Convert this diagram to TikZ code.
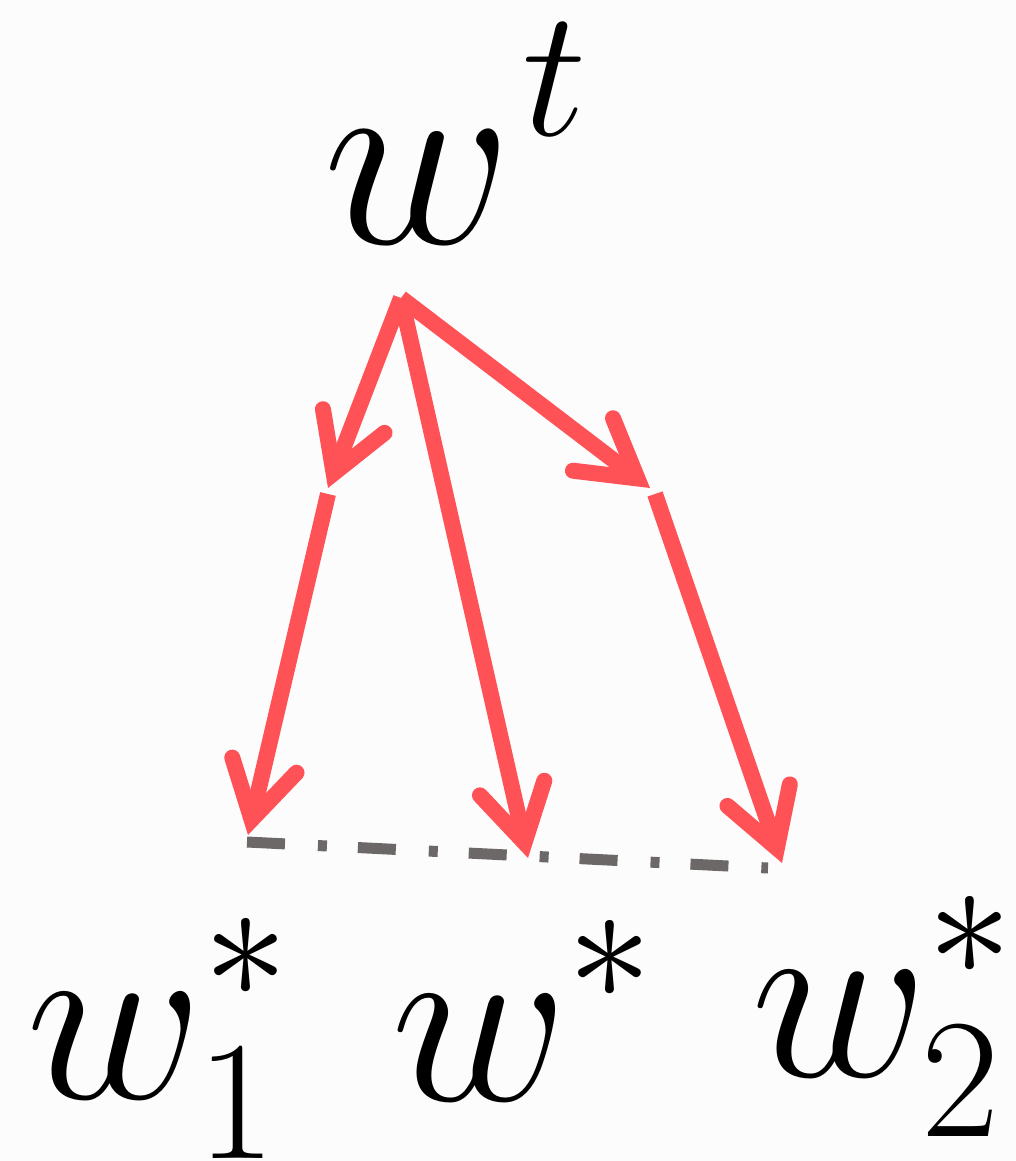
\documentclass[tikz,border=0pt]{standalone}
\usepackage{fix-cm}
\usetikzlibrary{arrows.meta}
\definecolor{arrred}{RGB}{255,82,87}
\definecolor{dashgray}{RGB}{108,104,104}
\definecolor{bgcol}{RGB}{252,252,252}
\tikzset{
  lbl/.style={anchor=base west, inner sep=0pt, outer sep=0pt},
  bigtop/.style={font=\fontsize{260}{260}\selectfont},
  bigbot/.style={font=\fontsize{243}{243}\selectfont},
  redarrow/.style={draw=arrred, line width=16pt, line cap=butt,
    -{Straight Barb[length=56pt, width=66pt, line cap=round, line join=miter]}},
  dashdot/.style={draw=dashgray, line width=11pt,
    dash pattern=on 38pt off 33pt on 9pt off 31pt}
}
\begin{document}
\begin{tikzpicture}[x=1pt, y=-1pt]
  \fill[bgcol] (0,0) rectangle (1016,1161);
  \useasboundingbox (0,0) rectangle (1016,1161);

  % labels
  \node[lbl, bigtop] (wt) at (323,243) {$\displaystyle w^{\mkern1mu t}$};
  \node[lbl, bigbot] (w1) at (27,1098) {$\displaystyle w_1^*$};
  \node[lbl, bigbot] (wm) at (391,1100) {$\displaystyle w^*$};
  \node[lbl, bigbot] (w2) at (751,1076) {$\displaystyle w_2^*$};

  % points
  \coordinate (O) at (401,298);
  \coordinate (M1) at (328,488);
  \coordinate (M1b) at (328,494);
  \coordinate (T1) at (248,835);
  \coordinate (T0) at (528,858);
  \coordinate (M2) at (650,488);
  \coordinate (M2b) at (655,494);
  \coordinate (T2) at (782,863);
  \coordinate (D1) at (247,842);
  \coordinate (D2) at (768,868);

  % dash-dot line
  \draw[dashdot] (D1) -- (D2);

  % arrows
  \draw[redarrow] (O) -- (M1);
  \draw[redarrow] (M1b) -- (T1);
  \draw[redarrow] (O) -- (T0);
  \draw[redarrow] (O) -- (M2);
  \draw[redarrow] (M2b) -- (T2);
\end{tikzpicture}
\end{document}
